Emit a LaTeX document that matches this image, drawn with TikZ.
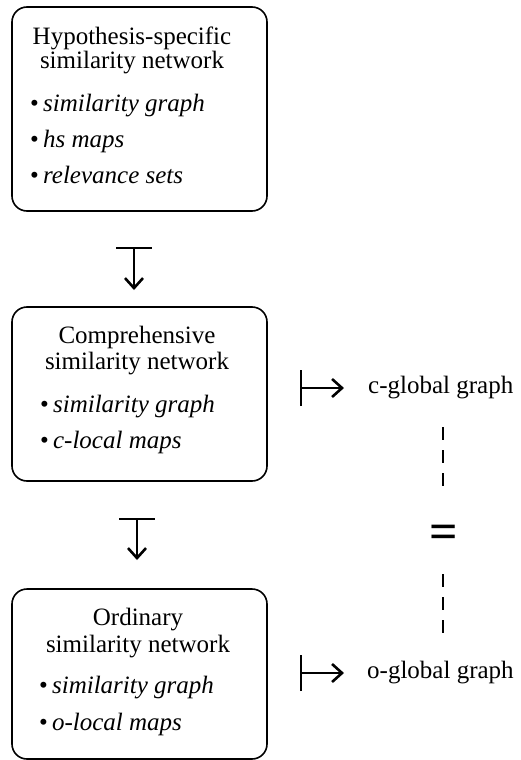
\documentclass[tikz,border=0pt]{standalone}
\usepackage{fontspec}
\setmainfont{Liberation Serif}[ItalicFont={Liberation Serif Italic}, BoldFont={Liberation Serif Bold}]
\usetikzlibrary{positioning, arrows.meta}

\begin{document}
\begin{tikzpicture}[x=1pt, y=-1pt,
    netbox/.style={draw, rounded corners=15pt, line width=1.6pt, minimum width=255pt, inner sep=0pt},
    txt/.style={font=\fontsize{25}{30}\selectfont, inner sep=0pt},
    item/.style={txt, anchor=west},
    mapsto/.style={{Bar[width=36pt, line width=2.2pt]}-{Straight Barb[length=10pt, width=18pt, line width=2.6pt]}, line width=2.2pt},
    eqline/.style={line width=2.2pt, dash pattern=on 13pt off 10pt}
]
    \useasboundingbox (0,0) rectangle (521,760);

    % === Hypothesis-specific network ===
    \node[netbox, minimum height=204pt] (hsnet) at (139.5, 109) {};
    \node[txt] (hstitlea) at (132, 38) {Hypothesis-specific};
    \node[txt] (hstitleb) at (132, 63) {similarity network};
    \node[item] (hsgraph) at (30, 106) {\textbullet\,\textit{similarity graph}};
    \node[item] (hsmaps) at (30, 141) {\textbullet\,\textit{hs maps}};
    \node[item] (hsrel) at (30, 175) {\textbullet\,\textit{relevance sets}};

    % down map
    \coordinate (dfroma) at (134, 247);
    \coordinate (dtoa) at (134, 290);
    \draw[mapsto] (dfroma) -- (dtoa);

    % === Comprehensive network ===
    \node[netbox, minimum height=174pt] (csnet) at (139.5, 394) {};
    \node[txt] (cstitlea) at (137, 337) {Comprehensive};
    \node[txt] (cstitleb) at (137, 364) {similarity network};
    \node[item] (csgraph) at (40, 407) {\textbullet\,\textit{similarity graph}};
    \node[item] (csmaps) at (40, 442) {\textbullet\,\textit{c-local maps}};

    % down map
    \coordinate (dfromb) at (137, 518);
    \coordinate (dtob) at (137, 560);
    \draw[mapsto] (dfromb) -- (dtob);

    % === Ordinary network ===
    \node[netbox, minimum height=170pt] (osnet) at (139.5, 674) {};
    \node[txt] (ostitlea) at (138, 620) {Ordinary};
    \node[txt] (ostitleb) at (138, 647) {similarity network};
    \node[item] (osgraph) at (39, 688) {\textbullet\,\textit{similarity graph}};
    \node[item] (osmaps) at (39, 724) {\textbullet\,\textit{o-local maps}};

    % === Global graphs ===
    \node[item] (cglob) at (368, 388) {c-global graph};
    \node[item] (oglob) at (367, 673) {o-global graph};
    \coordinate (cfrom) at (300, 388);
    \coordinate (ofrom) at (300, 673);
    \draw[mapsto, shorten >=24pt] (cfrom) -- (cglob.west);
    \draw[mapsto, shorten >=23pt] (ofrom) -- (oglob.west);

    % equality
    \node[font=\fontsize{50}{50}\selectfont\bfseries, inner sep=0pt] (eqsign) at (444, 537) {=};
    \coordinate (eqtopa) at (443, 427);
    \coordinate (eqtopb) at (443, 492);
    \coordinate (eqbota) at (443, 574);
    \coordinate (eqbotb) at (443, 640);
    \draw[eqline] (eqtopa) -- (eqtopb);
    \draw[eqline] (eqbota) -- (eqbotb);
\end{tikzpicture}
\end{document}
